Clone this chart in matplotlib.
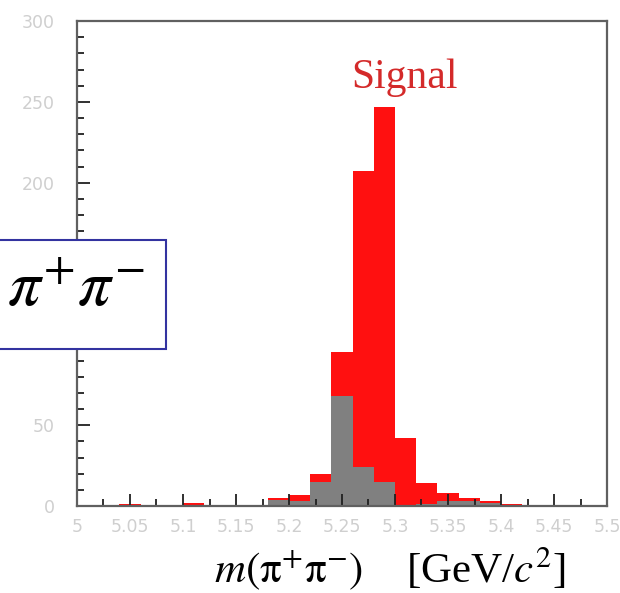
import numpy as np
import matplotlib
matplotlib.use("Agg")
import matplotlib.pyplot as plt
from matplotlib.patches import Rectangle
from matplotlib.ticker import MultipleLocator

plt.rcParams['mathtext.fontset'] = 'stix'

# histogram of m(pi+ pi-), 25 bins of 0.02 GeV from 5.0 to 5.5
bin_edges = np.round(np.arange(5.0, 5.5001, 0.02), 3)
total_counts = [0, 0, 1, 0, 0, 2, 0, 0, 0, 5, 7, 20, 95, 207, 247,
                42, 14, 8, 5, 3, 1, 0, 0, 0, 0]
bkg_counts = [0, 0, 0, 0, 0, 0, 0, 0, 0, 4, 3, 15, 68, 24, 15,
              0, 1, 3, 3, 2, 0, 0, 0, 0, 0]

x_ticks = [5.0, 5.05, 5.1, 5.15, 5.2, 5.25, 5.3, 5.35, 5.4, 5.45, 5.5]
x_ticklabels = ['5', '5.05', '5.1', '5.15', '5.2', '5.25', '5.3', '5.35',
                '5.4', '5.45', '5.5']
y_ticks = [0, 50, 100, 150, 200, 250, 300]
# 100 and 150 sit behind the boxed label
y_ticklabels = ['0', '50', '', '', '200', '250', '300']

fig = plt.figure(figsize=(6.2, 5.93), dpi=100)
ax = fig.add_axes([77/620, 1 - 506/593, 530/620, 485/593])

centers = bin_edges[:-1]
width = 0.02
ax.bar(centers, total_counts, width=width, align='edge', color='#ff1010',
       linewidth=0)
ax.bar(centers, bkg_counts, width=width, align='edge', color='#808080',
       linewidth=0)

ax.set_xlim(5.0, 5.5)
ax.set_ylim(0, 300)
ax.set_xticks(x_ticks)
ax.set_xticklabels(x_ticklabels)
ax.set_yticks(y_ticks)
ax.set_yticklabels(y_ticklabels)
ax.xaxis.set_minor_locator(MultipleLocator(0.025))
ax.yaxis.set_minor_locator(MultipleLocator(10))

ax.tick_params(which='both', direction='in', color='#202020', width=1.3,
               labelcolor='#cfcfcf', labelsize=12.5, top=False, right=False)
ax.tick_params(which='major', length=9)
ax.tick_params(which='minor', length=5)
ax.tick_params(axis='x', pad=9)
ax.tick_params(axis='y', pad=16)
for s in ax.spines.values():
    s.set_color('#606060')
    s.set_linewidth(1.6)

ax.text(5.309, 265, 'Signal', color='#d42a2a', fontsize=30,
        family='Liberation Serif', ha='center', va='center')

# x label
fig.text(390/620, 1 - 568/593,
         r'$m(\mathrm{\pi}^{+}\mathrm{\pi}^{-})$    [GeV/$c^{2}$]',
         fontsize=31, family='Liberation Serif', ha='center', va='center')

# boxed pi+pi- label
box = Rectangle((-2/620, 1 - 349/593), 168/620, 109/593,
                transform=fig.transFigure, facecolor='white',
                edgecolor='#3333a0', linewidth=1.5, zorder=5)
fig.add_artist(box)
fig.text(76/620, 1 - 288/593, r'$\pi^{+}\pi^{-}$', fontsize=47,
         ha='center', va='center', zorder=6)

plt.savefig('out.png', dpi=100)
